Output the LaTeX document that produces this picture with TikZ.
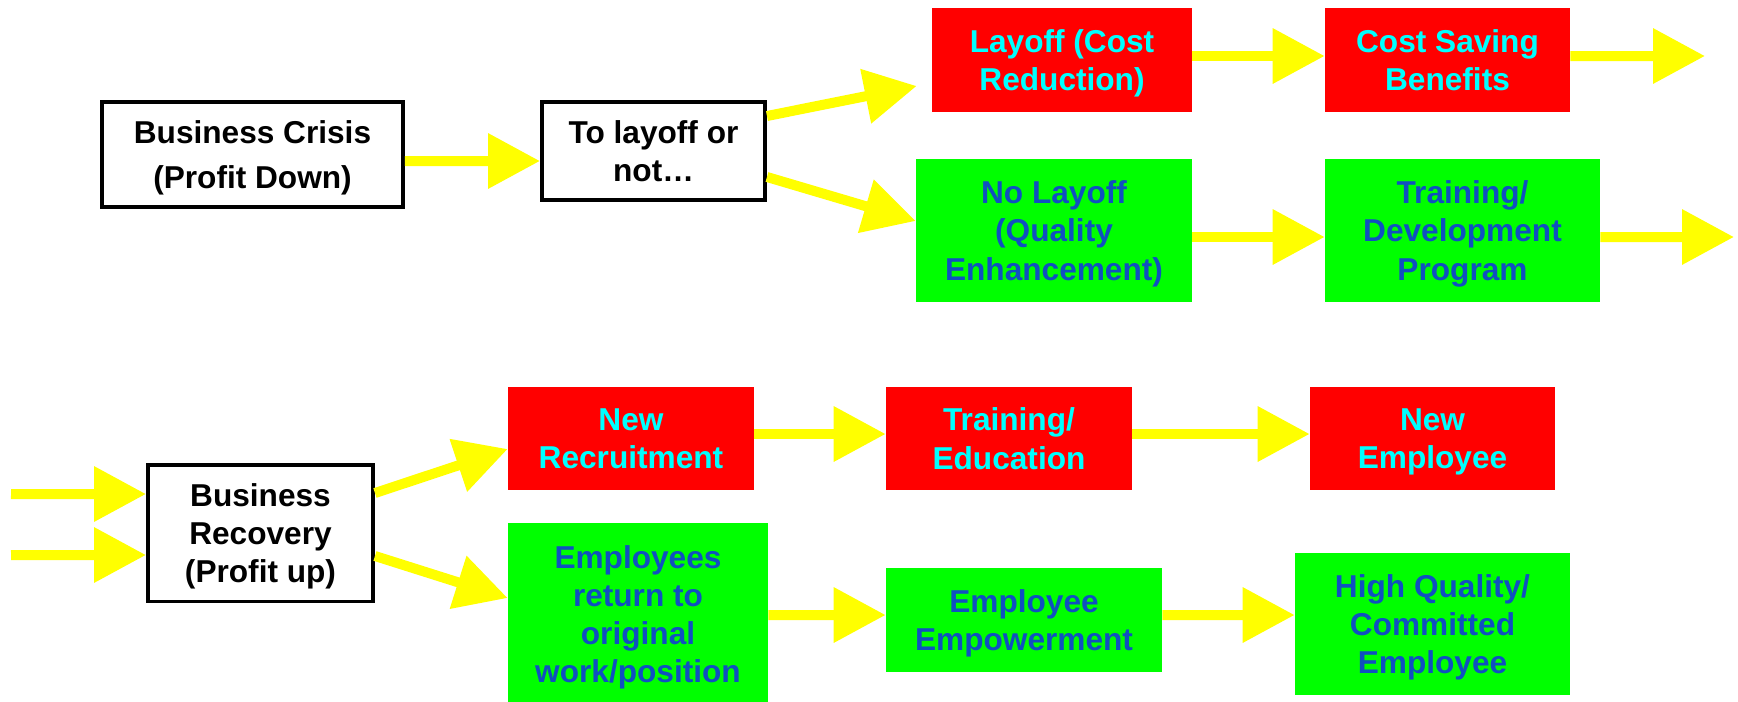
\documentclass[tikz,border=0pt]{standalone}
\usepackage{fontspec}
\setmainfont{Liberation Sans}
\usepackage{tikz}
\usetikzlibrary{arrows.meta,positioning}
\definecolor{txtblue}{RGB}{16,80,192}
\definecolor{boxred}{RGB}{255,0,0}
\definecolor{boxgreen}{RGB}{0,255,0}
\definecolor{txtcyan}{RGB}{0,255,255}
\definecolor{flowyellow}{RGB}{255,255,0}

\begin{document}
\begin{tikzpicture}[x=0.02cm, y=-0.02cm, every node/.style={align=center, inner sep=0pt, font=\bfseries\fontsize{18}{21.8}\selectfont,
    text depth=0pt, execute at begin node=\vphantom{A}},
  plain/.style={draw, line width=0.07cm, fill=white},
  cut/.style={fill=boxred, text=txtcyan},
  keep/.style={fill=boxgreen, text=txtblue},
  flow/.style={flowyellow, line width=0.2cm, -{Triangle[length=1.04cm, width=1.06cm]}}]

\useasboundingbox (0,0) rectangle (1738,701);

% Crisis side
\node (BC) [plain, minimum width=6.03cm, minimum height=2.11cm] at (252.5,154.5) {Business Crisis\\[0.15cm](Profit Down)};
\node (TL) [plain, minimum width=4.47cm, minimum height=1.97cm] at (653.5,151) {To layoff or\\not…};

\node (LCR) [cut, minimum width=5.2cm, minimum height=2.08cm] at (1062,60) {Layoff (Cost\\Reduction)};
\node (CSB) [cut, minimum width=4.9cm, minimum height=2.08cm] at (1447.5,60) {Cost Saving\\Benefits};
\node (NLQ) [keep, minimum width=5.52cm, minimum height=2.86cm] at (1054,230.5) {No Layoff\\(Quality\\Enhancement)};
\node (TDP) [keep, minimum width=5.5cm, minimum height=2.86cm] at (1462.5,230.5) {Training/\\Development\\Program};

% Recovery side
\node (BR) [plain, minimum width=4.51cm, minimum height=2.73cm] at (260.5,533) {Business\\Recovery\\(Profit up)};

\node (NR) [cut, minimum width=4.92cm, minimum height=2.06cm] at (631,438.5) {New\\Recruitment};
\node (TE) [cut, minimum width=4.92cm, minimum height=2.06cm] at (1009,438.5) {Training/\\Education};
\node (NE) [cut, minimum width=4.9cm, minimum height=2.06cm] at (1432.5,438.5) {New\\Employee};
\node (ER) [keep, minimum width=5.2cm, minimum height=3.64cm] at (638,614) {Employees\\return to\\original\\work/position};
\node (EE) [keep, minimum width=5.52cm, minimum height=2.08cm] at (1024,620) {Employee\\Empowerment};
\node (HQ) [keep, minimum width=5.5cm, minimum height=2.84cm] at (1432.5,624) {High Quality/\\Committed\\Employee};

% Loose ends
\coordinate (CSBout) at (1705,56);
\coordinate (TDPout) at (1734,237);
\coordinate (in1) at (11,494);
\coordinate (in2) at (11,555);

% Arrows, top
\draw[flow] ([yshift=-0.13cm]BC.east) -- ([yshift=-0.2cm]TL.west);
\draw[flow] ([yshift=0.7cm]TL.east) -- ([xshift=-0.3cm,yshift=-0.52cm]LCR.west);
\draw[flow] ([yshift=-0.52cm]TL.east) -- ([yshift=0.19cm]NLQ.west);
\draw[flow] ([yshift=0.08cm]LCR.east) -- ([yshift=0.08cm]CSB.west);
\draw[flow] ([yshift=0.08cm]CSB.east) -- (CSBout);
\draw[flow] ([yshift=-0.13cm]NLQ.east) -- ([yshift=-0.13cm]TDP.west);
\draw[flow] ([yshift=-0.13cm]TDP.east) -- (TDPout);

% Arrows, bottom
\draw[flow] (in1) -- ([yshift=0.78cm]BR.west);
\draw[flow] (in2) -- ([yshift=-0.44cm]BR.west);
\draw[flow] ([yshift=0.8cm]BR.east) -- ([yshift=-0.21cm]NR.west);
\draw[flow] ([yshift=-0.46cm]BR.east) -- ([yshift=0.32cm]ER.west);
\draw[flow] ([yshift=0.09cm]NR.east) -- ([yshift=0.09cm]TE.west);
\draw[flow] ([yshift=0.09cm]TE.east) -- ([yshift=0.09cm]NE.west);
\draw[flow] ([yshift=-0.02cm]ER.east) -- ([yshift=0.1cm]EE.west);
\draw[flow] ([yshift=0.1cm]EE.east) -- ([yshift=0.18cm]HQ.west);

\end{tikzpicture}
\end{document}
